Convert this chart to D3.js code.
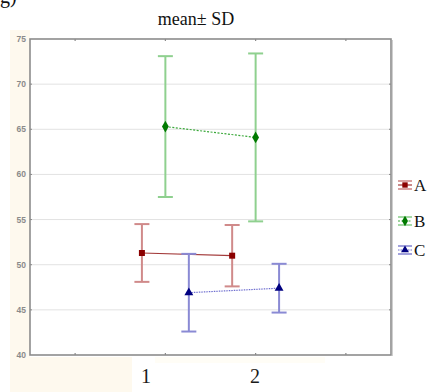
<!DOCTYPE html>
<html><head><meta charset="utf-8">
<script src="https://cdn.jsdelivr.net/npm/d3@7"></script>
<style>body{margin:0;background:#fff}svg{display:block}</style>
</head><body>
<script>
const categories = ["1", "2"];
const seriesNames = ["A", "B", "C"];
const meanA = [51.3, 51.0];
const sdA = [3.2, 3.4];
const meanB = [65.3, 64.1];
const sdB = [7.8, 9.3];
const meanC = [46.9, 47.4];
const sdC = [4.3, 2.7];
const yTicks = [40, 45, 50, 55, 60, 65, 70, 75];

const W = 434, H = 392;
const svg = d3.select("body").append("svg").attr("width", W).attr("height", H);

const L = 30, R = 391, T = 39, B = 355;
const x = d3.scaleLinear().domain([-0.5, 3.5]).range([L, R]);
const y = d3.scaleLinear().domain([40, 75]).range([B, T]);

// cream background areas
const cream = "#fef9ee";
svg.append("rect").attr("x", 10).attr("y", 30).attr("width", 20).attr("height", H - 30).attr("fill", cream);
svg.append("rect").attr("x", 10).attr("y", 357).attr("width", 122).attr("height", H - 357).attr("fill", cream);
svg.append("rect").attr("x", 155).attr("y", 357).attr("width", 170).attr("height", 6).attr("fill", "#fffdf6");

// plot background
svg.append("rect").attr("x", L).attr("y", T).attr("width", R - L).attr("height", B - T).attr("fill", "#fff");

// partial label at the top-left
svg.append("text").attr("x", 0).attr("y", 3).attr("font-family", "Liberation Serif, serif")
  .attr("font-size", 20).attr("fill", "#111").text("g)");

// title
svg.append("text").attr("x", 196).attr("y", 25).attr("text-anchor", "middle")
  .attr("font-family", "Liberation Serif, serif").attr("font-size", 18).attr("fill", "#111")
  .text("mean\u00B1 SD");

// gridlines
svg.append("g").selectAll("line").data(yTicks.filter(t => t > 40 && t < 75)).join("line")
  .attr("x1", L).attr("x2", R).attr("y1", d => y(d)).attr("y2", d => y(d))
  .attr("stroke", "#e2e2e2").attr("stroke-width", 1);

// y axis labels
svg.append("g").selectAll("text").data(yTicks).join("text")
  .attr("x", 26).attr("y", d => y(d)).attr("dy", "0.35em").attr("text-anchor", "end")
  .attr("font-family", "Liberation Sans, Arial, sans-serif").attr("font-size", 8.5).attr("font-weight", "bold")
  .attr("fill", "#8a8a8a").text(d => d);

// small tick marks
const xTickVals = [0, 1, 2, 3];
svg.append("g").selectAll("line").data(xTickVals).join("line")
  .attr("x1", d => x(d)).attr("x2", d => x(d)).attr("y1", B - 2).attr("y2", B)
  .attr("stroke", "#888").attr("stroke-width", 1.2);
svg.append("g").selectAll("line").data(xTickVals).join("line")
  .attr("x1", d => x(d)).attr("x2", d => x(d)).attr("y1", T).attr("y2", T + 2)
  .attr("stroke", "#888").attr("stroke-width", 1.2);
svg.append("g").selectAll("line").data(yTicks.filter(t => t > 40 && t < 75)).join("line")
  .attr("x1", L).attr("x2", L + 2).attr("y1", d => y(d)).attr("y2", d => y(d))
  .attr("stroke", "#888").attr("stroke-width", 1);
svg.append("g").selectAll("line").data(yTicks.filter(t => t > 40 && t < 75)).join("line")
  .attr("x1", R - 2).attr("x2", R).attr("y1", d => y(d)).attr("y2", d => y(d))
  .attr("stroke", "#888").attr("stroke-width", 1);

// frame
svg.append("rect").attr("x", L).attr("y", T).attr("width", R - L).attr("height", B - T)
  .attr("fill", "none").attr("stroke", "#8c8c8c").attr("stroke-width", 1.6);
svg.append("line").attr("x1", R + 1.5).attr("x2", R + 1.5).attr("y1", T + 1).attr("y2", B + 1)
  .attr("stroke", "#cfcfcf").attr("stroke-width", 1);

// x category labels
const xLabelPos = [146, 255];
svg.append("g").selectAll("text").data(categories).join("text")
  .attr("x", (d, i) => xLabelPos[i]).attr("y", 383).attr("text-anchor", "middle")
  .attr("font-family", "Liberation Serif, serif").attr("font-size", 20).attr("fill", "#1a1a1a")
  .text(d => d);

const series = [
  { name: "A", mean: meanA, sd: sdA, off: -0.26, bar: "#d08a8a", mk: "#8b0000", line: "#a33a3a", dash: null, shape: d3.symbolSquare, size: 36 },
  { name: "B", mean: meanB, sd: sdB, off: 0, bar: "#8fd08f", mk: "#007a00", line: "#3aa83a", dash: "2,1.5", shape: d3.symbolDiamond, size: 40 },
  { name: "C", mean: meanC, sd: sdC, off: 0.26, bar: "#8a8ad4", mk: "#000080", line: "#7070d0", dash: "1.5,1", shape: d3.symbolTriangle, size: 34 }
];
const cap = 7.5;
const idx = [1, 2];

series.forEach(s => {
  const g = svg.append("g");
  const pts = categories.map((c, i) => ({ cx: x(idx[i] + s.off), m: s.mean[i], sd: s.sd[i] }));
  // error bars
  g.selectAll(".v").data(pts).join("line")
    .attr("x1", d => d.cx).attr("x2", d => d.cx)
    .attr("y1", d => y(d.m + d.sd)).attr("y2", d => y(d.m - d.sd))
    .attr("stroke", s.bar).attr("stroke-width", 2);
  g.selectAll(".t").data(pts).join("line")
    .attr("x1", d => d.cx - cap).attr("x2", d => d.cx + cap)
    .attr("y1", d => y(d.m + d.sd)).attr("y2", d => y(d.m + d.sd))
    .attr("stroke", s.bar).attr("stroke-width", 2);
  g.selectAll(".b").data(pts).join("line")
    .attr("x1", d => d.cx - cap).attr("x2", d => d.cx + cap)
    .attr("y1", d => y(d.m - d.sd)).attr("y2", d => y(d.m - d.sd))
    .attr("stroke", s.bar).attr("stroke-width", 2);
  // connecting line
  const ln = g.append("path").datum(pts)
    .attr("d", d3.line().x(d => d.cx).y(d => y(d.m)))
    .attr("fill", "none").attr("stroke", s.line).attr("stroke-width", 1.2);
  if (s.dash) ln.attr("stroke-dasharray", s.dash);
  // markers
  g.selectAll("path.mk").data(pts).join("path").attr("class", "mk")
    .attr("d", d3.symbol().type(s.shape).size(s.size))
    .attr("transform", d => `translate(${d.cx},${y(d.m)})`)
    .attr("fill", s.mk);
});

// legend
const legY = [185, 221, 250];
series.forEach((s, i) => {
  const g = svg.append("g").attr("transform", `translate(405,${legY[i]})`);
  [-4, 4].forEach(dy => g.append("line").attr("x1", -7).attr("x2", 7).attr("y1", dy).attr("y2", dy)
    .attr("stroke", s.bar).attr("stroke-width", 1.6));
  g.append("line").attr("x1", -7).attr("x2", 7).attr("y1", 0).attr("y2", 0)
    .attr("stroke", s.line).attr("stroke-width", 1.2).attr("stroke-dasharray", s.dash);
  g.append("path").attr("d", d3.symbol().type(s.shape).size(s.size * 0.8)).attr("fill", s.mk);
  g.append("text").attr("x", 9).attr("y", 0).attr("dy", "0.35em")
    .attr("font-family", "Liberation Serif, serif").attr("font-size", 17).attr("fill", "#111")
    .text(seriesNames[i]);
});
</script>
</body></html>
